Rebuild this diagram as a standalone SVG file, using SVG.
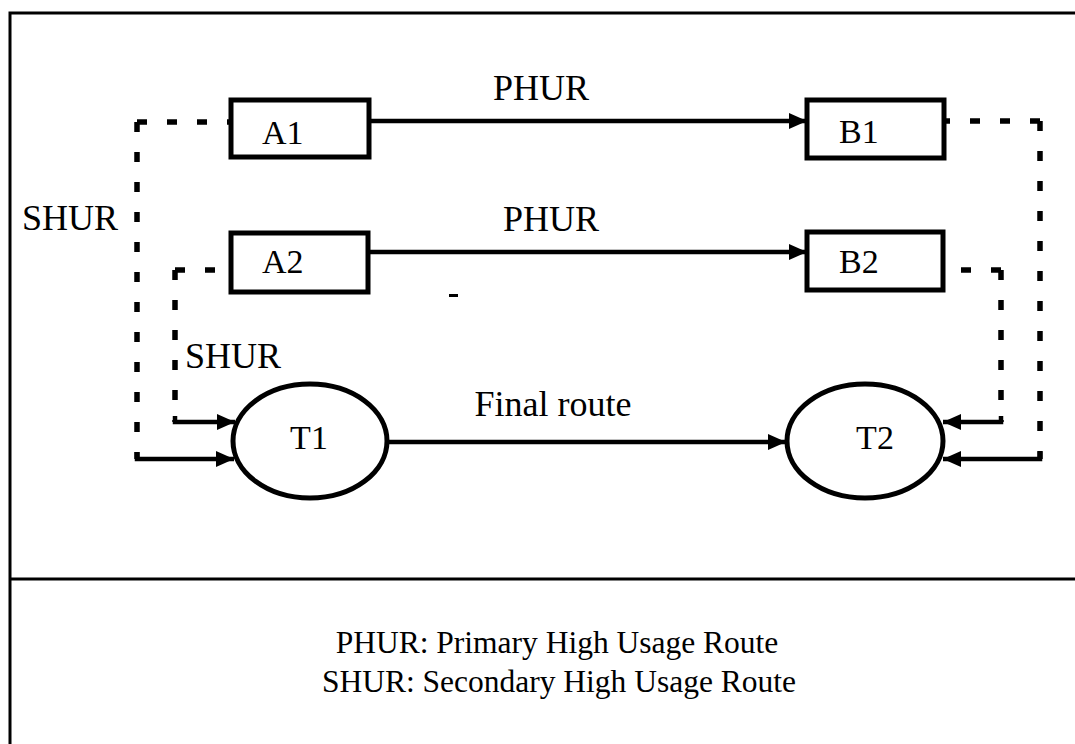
<svg xmlns="http://www.w3.org/2000/svg" width="1075" height="744" viewBox="0 0 1075 744">
<style>
  .lbl { font-family: "Liberation Serif", "Times New Roman", serif; fill: #000; }
  .big { font-size: 36px; }
  .node { font-size: 34px; }
  .leg { font-size: 31.5px; }
  .box { fill: #fff; stroke: #000; stroke-width: 5; }
  .solid { fill: none; stroke: #000; stroke-width: 4.5; }
  .dash { fill: none; stroke: #000; stroke-width: 5.5; stroke-dasharray: 10 20; }
  .frame { fill: none; stroke: #000; stroke-width: 3; }
</style>
<defs>
  <marker id="arr" viewBox="0 0 18 16" refX="18" refY="8" markerWidth="18" markerHeight="16" markerUnits="userSpaceOnUse" orient="auto">
    <path d="M0,0 L18,8 L0,16 z" fill="#000"/>
  </marker>
</defs>
<rect width="1075" height="744" fill="#fff"/>
<g id="frame">
  <path class="frame" d="M1075,13 H10 V744"/>
  <line class="frame" x1="10" y1="579" x2="1075" y2="579"/>
</g>
<g id="connectors">
  <line class="solid" x1="369" y1="121" x2="807" y2="121" marker-end="url(#arr)"/>
  <line class="solid" x1="368" y1="252" x2="807" y2="252" marker-end="url(#arr)"/>
  <line class="solid" x1="387" y1="442" x2="786" y2="442" marker-end="url(#arr)"/>
  <path class="dash" d="M137,122 H229 M137,122 V459"/>
  <path class="solid" d="M137,452 V459 H234" marker-end="url(#arr)"/>
  <path class="dash" d="M175,270 H229 M175,270 V422"/>
  <path class="solid" d="M175,416 V422 H235" marker-end="url(#arr)"/>
  <path class="dash" d="M1040,121 H946 M1040,121 V459"/>
  <path class="solid" d="M1040,452 V459 H943" marker-end="url(#arr)"/>
  <path class="dash" d="M1001,270 H946 M1001,270 V422"/>
  <path class="solid" d="M1001,416 V422 H943" marker-end="url(#arr)"/>
  <rect x="449" y="294" width="9" height="3" fill="#000"/>
</g>
<g id="labels">
  <text class="lbl big" x="541" y="100" text-anchor="middle">PHUR</text>
  <text class="lbl big" x="551" y="231" text-anchor="middle">PHUR</text>
  <text class="lbl big" x="70" y="230" text-anchor="middle">SHUR</text>
  <text class="lbl big" x="185" y="368">SHUR</text>
  <text class="lbl big" x="553" y="416" text-anchor="middle">Final route</text>
</g>
<g id="A1">
  <rect class="box" x="231" y="100" width="138" height="57"/>
  <text class="lbl node" x="262" y="144">A1</text>
</g>
<g id="A2">
  <rect class="box" x="231" y="233" width="137" height="59"/>
  <text class="lbl node" x="262" y="273">A2</text>
</g>
<g id="B1">
  <rect class="box" x="807" y="100" width="137" height="58"/>
  <text class="lbl node" x="839" y="143">B1</text>
</g>
<g id="B2">
  <rect class="box" x="807" y="232" width="136" height="58"/>
  <text class="lbl node" x="839" y="273">B2</text>
</g>
<g id="T1">
  <ellipse class="box" cx="310" cy="441" rx="77" ry="57"/>
  <text class="lbl node" x="309" y="449" text-anchor="middle">T1</text>
</g>
<g id="T2">
  <ellipse class="box" cx="865" cy="441" rx="78" ry="57"/>
  <text class="lbl node" x="875" y="449" text-anchor="middle">T2</text>
</g>
<g id="legend">
  <text class="lbl leg" x="557" y="653" text-anchor="middle">PHUR: Primary High Usage Route</text>
  <text class="lbl leg" x="559" y="692" text-anchor="middle">SHUR: Secondary High Usage Route</text>
</g>
</svg>
